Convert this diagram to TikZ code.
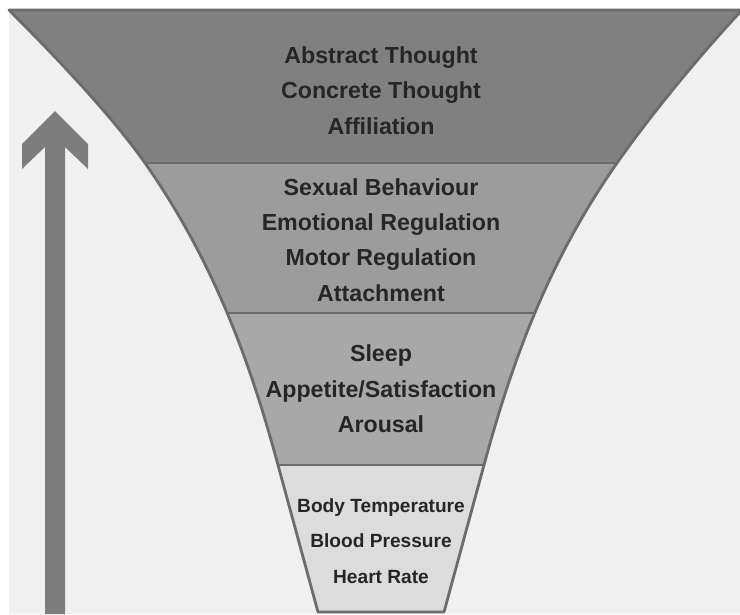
\documentclass[tikz,border=0pt]{standalone}
\usepackage{fontspec}
\setmainfont{Liberation Sans}
\usepackage{xcolor}
\definecolor{pageback}{RGB}{240,240,240}
\definecolor{bandA}{RGB}{128,128,128}
\definecolor{bandB}{RGB}{156,156,156}
\definecolor{bandC}{RGB}{168,168,168}
\definecolor{bandD}{RGB}{220,220,220}
\definecolor{rimgray}{RGB}{108,108,108}
\definecolor{arrowgray}{RGB}{125,125,125}
\definecolor{inkgray}{RGB}{38,38,38}

% outline of the funnel (units are pixels, y pointing down)
\newcommand{\funnelrim}{(9,10) .. controls (69,70) and (117,123) .. (145,163)
  .. controls (215,263) and (251,365) .. (278,465) -- (318,612)
  -- (444,612) -- (484,465) .. controls (511,365) and (547,263) .. (617,163)
  .. controls (645,123) and (690,66) .. (742,10) -- cycle}

\begin{document}
\begin{tikzpicture}[x=0.025cm,y=-0.025cm,
    levels/.style={align=center,anchor=base,text=inkgray,inner sep=0pt,
      font=\bfseries\fontsize{16.5}{24.9}\selectfont},
    smalllevels/.style={levels,font=\bfseries\fontsize{13.6}{25.2}\selectfont},
    rim/.style={draw=rimgray,line width=2pt,line join=round}
]
\useasboundingbox (0,0) rectangle (740,614);
\fill[white] (0,0) rectangle (740,614);
\fill[pageback] (9,10) rectangle (740,614);

% upward arrow on the left
\fill[arrowgray] (45,614) -- (45,147) -- (22,169) -- (22,144) -- (55,111)
  -- (88,144) -- (88,169) -- (65,147) -- (65,614) -- cycle;

% the four bands
\begin{scope}
  \clip \funnelrim;
  \fill[bandA] (0,0) rectangle (740,163);
  \fill[bandB] (0,163) rectangle (740,313);
  \fill[bandC] (0,313) rectangle (740,465);
  \fill[bandD] (0,465) rectangle (740,614);
  \foreach \y in {163,313,465}
    \draw[rimgray,line width=2pt] (0,\y) -- (740,\y);
\end{scope}
\draw[rim] \funnelrim;

% anchor=base sits on the last line of each block
\node[levels] (cortex) at (381,134) {Abstract Thought\\Concrete Thought\\Affiliation};
\node[levels] (limbic) at (381,301) {Sexual Behaviour\\Emotional Regulation\\Motor Regulation\\Attachment};
\node[levels] (diencephalon) at (381,432) {Sleep\\Appetite/Satisfaction\\Arousal};
\node[smalllevels] (brainstem) at (381,583) {Body Temperature\\Blood Pressure\\Heart Rate};
\end{tikzpicture}
\end{document}
